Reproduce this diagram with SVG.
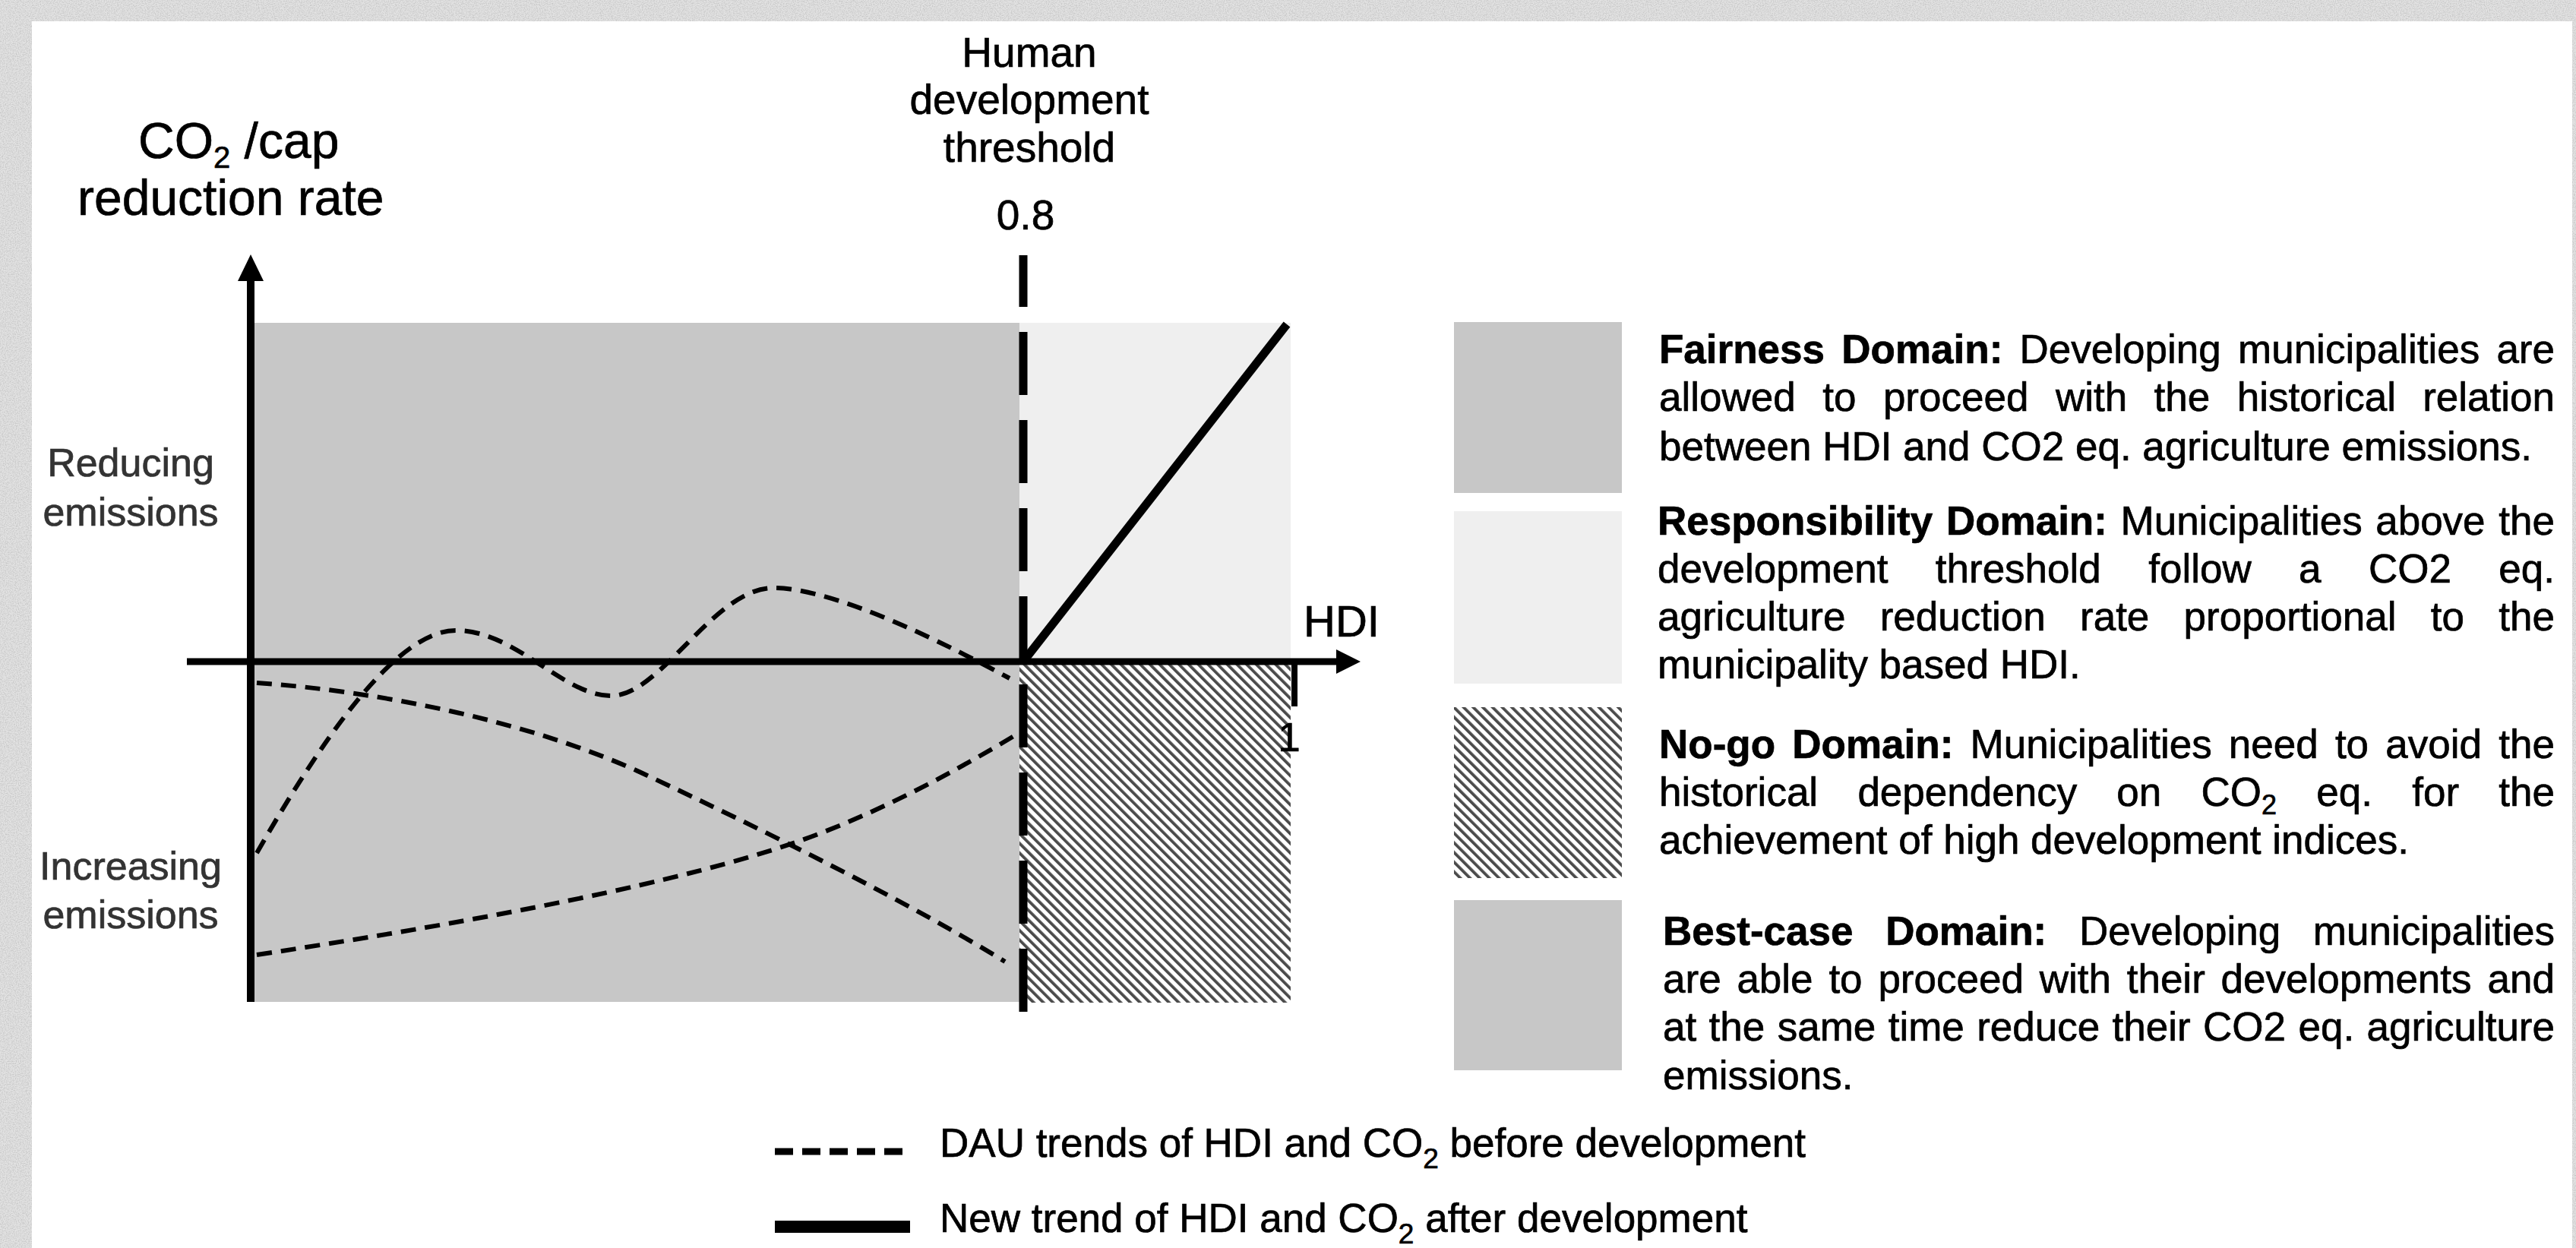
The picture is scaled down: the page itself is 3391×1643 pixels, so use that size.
<svg xmlns="http://www.w3.org/2000/svg" width="3391" height="1643" viewBox="0 0 3391 1643">
<defs>
<style>
text{font-family:"Liberation Sans",Arial,Helvetica,sans-serif;fill:#000;stroke:#000;stroke-width:0.7px}
.ax{font-size:66px}
.th{font-size:55px;text-anchor:middle}
.side{font-size:52px;fill:#333;stroke:#333;text-anchor:middle}
.lg{font-size:53px}
.b{font-weight:bold}
.leg{font-size:53px}
.dash{fill:none;stroke:#000;stroke-width:6;stroke-dasharray:20 12}
.stk{stroke:#000;fill:none}
.dark{fill:#c7c7c7}
.light{fill:#efefef}
.hat{fill:url(#hatch)}
</style>
<pattern id="hatch" patternUnits="userSpaceOnUse" width="9" height="9" patternTransform="rotate(-45)">
<rect width="9" height="9" fill="#fff"/>
<rect width="3.8" height="9" fill="#4a4a4a"/>
</pattern>
<filter id="grain" x="0" y="0" width="1" height="1" filterUnits="objectBoundingBox">
<feTurbulence type="fractalNoise" baseFrequency="0.7" numOctaves="3" seed="7"/>
<feColorMatrix type="matrix" values="0 0 0 0 0.5 0 0 0 0 0.5 0 0 0 0 0.5 0 0 0 1.6 -0.6"/>
</filter>
</defs>

<g id="background">
<rect width="3391" height="1643" fill="#e2e2e2"/>
<rect width="3391" height="1643" filter="url(#grain)"/>
<rect x="42" y="28" width="3344" height="1620" fill="#fff"/>
</g>

<g id="fairness-region"><rect class="dark" x="330" y="425" width="1012" height="894"/></g>
<g id="responsibility-region"><rect class="light" x="1342" y="425" width="357" height="447"/></g>
<g id="nogo-region"><rect class="hat" x="1342" y="872" width="357" height="448"/></g>

<g id="connectors">
<path class="dash" d="M338,1123 C420,980 520,830 600,830 C680,830 740,916 805,916 C870,916 940,774 1018,774 C1100,774 1250,850 1329,893"/>
<path class="dash" d="M338,899 C500,910 700,950 850,1020 C1000,1090 1200,1190 1323,1266"/>
<path class="dash" d="M338,1257 C650,1210 900,1160 1050,1108 C1150,1073 1250,1020 1338,967"/>
<line class="stk" x1="330" y1="1319" x2="330" y2="366" stroke-width="10"/>
<polygon points="330,335 313,370 347,370" fill="#000"/>
<line class="stk" x1="246" y1="871" x2="1762" y2="871" stroke-width="9"/>
<polygon points="1791,871 1759,855 1759,887" fill="#000"/>
<line class="stk" x1="1704" y1="871" x2="1704" y2="930" stroke-width="8"/>
<line class="stk" x1="1347" y1="1332" x2="1347" y2="336" stroke-width="11" stroke-dasharray="83 33"/>
<line class="stk" x1="1347" y1="871" x2="1694" y2="427" stroke-width="11"/>
</g>

<g id="axis-labels">
<text class="ax" x="182" y="208">CO<tspan font-size="40" dy="13">2</tspan><tspan dy="-13"> /cap</tspan></text>
<text class="ax" x="102" y="283">reduction rate</text>
<text class="th" x="1355" y="88">Human</text>
<text class="th" x="1355" y="150">development</text>
<text class="th" x="1355" y="213">threshold</text>
<text class="th" x="1350" y="302" font-size="58">0.8</text>
<text x="1716" y="838" font-size="58">HDI</text>
<text x="1697" y="989" font-size="53" text-anchor="middle">1</text>
<text class="side" x="172" y="627">Reducing</text>
<text class="side" x="172" y="692">emissions</text>
<text class="side" x="172" y="1158">Increasing</text>
<text class="side" x="172" y="1222">emissions</text>
</g>

<g id="legend-fairness">
<rect class="dark" x="1914" y="424" width="221" height="225"/>
<text class="lg" y="478"><tspan class="b" x="2184">Fairness</tspan><tspan class="b" x="2424.3">Domain:</tspan><tspan x="2658.6">Developing</tspan><tspan x="2946">municipalities</tspan><tspan x="3363" text-anchor="end">are</tspan></text>
<text class="lg" y="541"><tspan x="2184">allowed</tspan><tspan x="2399.2">to</tspan><tspan x="2478.9">proceed</tspan><tspan x="2705.9">with</tspan><tspan x="2835.6">the</tspan><tspan x="2944.8">historical</tspan><tspan x="3363" text-anchor="end">relation</tspan></text>
<text class="lg" x="2184" y="606">between HDI and CO2 eq. agriculture emissions.</text>
</g>

<g id="legend-responsibility">
<rect class="light" x="1914" y="673" width="221" height="227"/>
<text class="lg" y="704"><tspan class="b" x="2182">Responsibility</tspan><tspan class="b" x="2561.9">Domain:</tspan><tspan x="2791.5">Municipalities</tspan><tspan x="3127.2">above</tspan><tspan x="3363" text-anchor="end">the</tspan></text>
<text class="lg" y="767"><tspan x="2182">development</tspan><tspan x="2547.8">threshold</tspan><tspan x="2828.2">follow</tspan><tspan x="3026.1">a</tspan><tspan x="3118">CO2</tspan><tspan x="3363" text-anchor="end">eq.</tspan></text>
<text class="lg" y="830"><tspan x="2182">agriculture</tspan><tspan x="2474.7">reduction</tspan><tspan x="2738">rate</tspan><tspan x="2874.6">proportional</tspan><tspan x="3199.7">to</tspan><tspan x="3363" text-anchor="end">the</tspan></text>
<text class="lg" x="2182" y="893">municipality based HDI.</text>
</g>

<g id="legend-nogo">
<rect class="hat" x="1914" y="931" width="221" height="225"/>
<text class="lg" y="998"><tspan class="b" x="2184">No-go</tspan><tspan class="b" x="2359.3">Domain:</tspan><tspan x="2593.5">Municipalities</tspan><tspan x="2933.8">need</tspan><tspan x="3073.9">to</tspan><tspan x="3140.3">avoid</tspan><tspan x="3363" text-anchor="end">the</tspan></text>
<text class="lg" y="1061"><tspan x="2184">historical</tspan><tspan x="2445.4">dependency</tspan><tspan x="2786.2">on</tspan><tspan x="2897.4">CO</tspan><tspan font-size="36" dy="11">2</tspan><tspan x="3049.2" dy="-11">eq.</tspan><tspan x="3175.2">for</tspan><tspan x="3363" text-anchor="end">the</tspan></text>
<text class="lg" x="2184" y="1124">achievement of high development indices.</text>
</g>

<g id="legend-bestcase">
<rect class="dark" x="1914" y="1185" width="221" height="224"/>
<text class="lg" y="1244"><tspan class="b" x="2189">Best-case</tspan><tspan class="b" x="2482.2">Domain:</tspan><tspan x="2737">Developing</tspan><tspan x="3363" text-anchor="end">municipalities</tspan></text>
<text class="lg" y="1307"><tspan x="2189">are</tspan><tspan x="2286.4">able</tspan><tspan x="2407.4">to</tspan><tspan x="2472.4">proceed</tspan><tspan x="2684.7">with</tspan><tspan x="2799.7">their</tspan><tspan x="2923.6">developments</tspan><tspan x="3363" text-anchor="end">and</tspan></text>
<text class="lg" y="1370"><tspan x="2189">at</tspan><tspan x="2249.6">the</tspan><tspan x="2339.7">same</tspan><tspan x="2485.7">time</tspan><tspan x="2602.2">reduce</tspan><tspan x="2780.6">their</tspan><tspan x="2900.1">CO2</tspan><tspan x="3025.5">eq.</tspan><tspan x="3363" text-anchor="end">agriculture</tspan></text>
<text class="lg" x="2189" y="1434">emissions.</text>
</g>

<g id="legend-trends">
<line class="stk" x1="1020" y1="1516" x2="1190" y2="1516" stroke-width="9" stroke-dasharray="24 12"/>
<line class="stk" x1="1020" y1="1615" x2="1198" y2="1615" stroke-width="16"/>
<text class="leg" x="1237" y="1523">DAU trends of HDI and CO<tspan font-size="37" dy="15">2</tspan><tspan dy="-15"> before development</tspan></text>
<text class="leg" x="1237" y="1622">New trend of HDI and CO<tspan font-size="37" dy="15">2</tspan><tspan dy="-15"> after development</tspan></text>
</g>
</svg>
